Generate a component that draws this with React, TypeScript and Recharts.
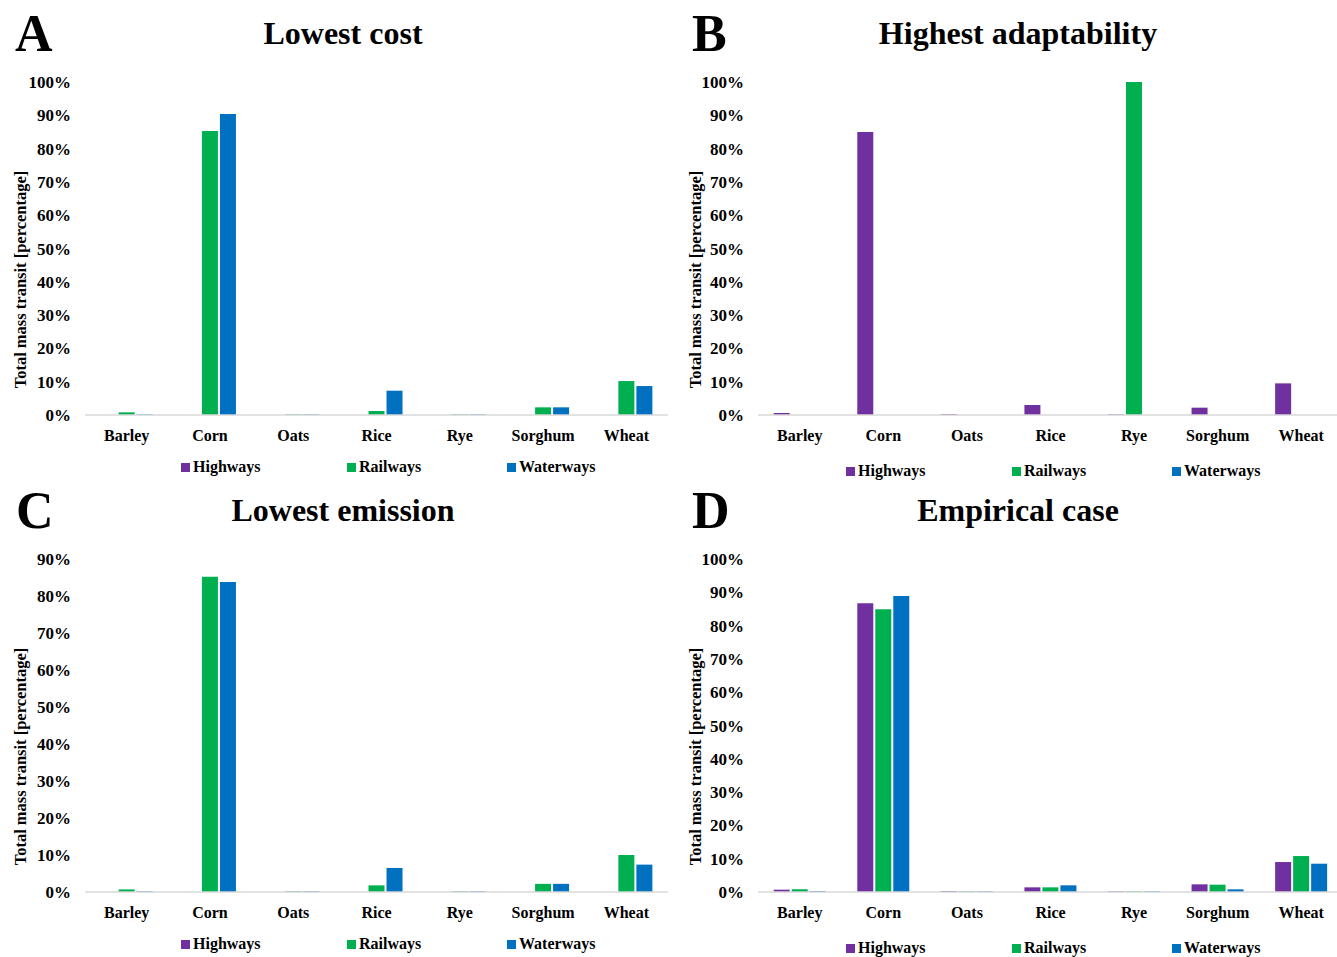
import React from 'react';
import { BarChart, Bar, XAxis, YAxis, Legend } from 'recharts';

const crops = ['Barley', 'Corn', 'Oats', 'Rice', 'Rye', 'Sorghum', 'Wheat'];

// A - lowest cost (%)
const costHighways = [0, 0, 0, 0, 0, 0, 0];
const costRailways = [0.8, 85.3, 0.2, 1.2, 0.2, 2.3, 10.2];
const costWaterways = [0.2, 90.4, 0.2, 7.3, 0.2, 2.3, 8.7];

// B - highest adaptability (%)
const adaptHighways = [0.6, 85.0, 0.3, 3.0, 0.2, 2.2, 9.5];
const adaptRailways = [0, 0, 0, 0, 100, 0, 0];
const adaptWaterways = [0, 0, 0, 0, 0, 0, 0];

// C - lowest emission (%)
const emisHighways = [0, 0, 0, 0, 0, 0, 0];
const emisRailways = [0.7, 85.2, 0.2, 1.8, 0.2, 2.2, 10.0];
const emisWaterways = [0.2, 83.8, 0.2, 6.5, 0.2, 2.2, 7.4];

// D - empirical case (%)
const empHighways = [0.7, 86.7, 0.3, 1.4, 0.2, 2.3, 9.0];
const empRailways = [0.8, 84.9, 0.2, 1.4, 0.2, 2.2, 10.8];
const empWaterways = [0.3, 88.9, 0.2, 2.0, 0.2, 0.8, 8.5];

const ticks100 = [0, 10, 20, 30, 40, 50, 60, 70, 80, 90, 100];
const ticks90 = [0, 10, 20, 30, 40, 50, 60, 70, 80, 90];

const series = [
  { key: 'highways', name: 'Highways', color: '#7030A0' },
  { key: 'railways', name: 'Railways', color: '#00B050' },
  { key: 'waterways', name: 'Waterways', color: '#0070C0' },
];

const FONT = "'Liberation Serif', 'Times New Roman', serif";

function buildRows(h: number[], r: number[], w: number[]) {
  return crops.map((name, i) => ({ name, highways: h[i], railways: r[i], waterways: w[i] }));
}

interface PanelProps {
  letter: string;
  title: string;
  rows: ReturnType<typeof buildRows>;
  ticks: number[];
  left: number;
  top: number;
  width: number;
  axisWidth: number;
  labelX: number;
  letterX: number;
  titleCenter: number;
  legendTop: number;
  legendX: number[];
}

function Panel(p: PanelProps) {
  const { rows, ticks, width, axisWidth, labelX, legendTop, legendX } = p;

  const renderLegend = () => (
    <div style={{ position: 'relative', height: 20 }}>
      {series.map((s, i) => (
        <div
          key={s.key}
          style={{ position: 'absolute', left: legendX[i], top: 0, display: 'flex', alignItems: 'center', fontSize: 16, fontWeight: 700, color: '#000' }}
        >
          <span style={{ display: 'inline-block', width: 9, height: 9, background: s.color, marginRight: 3 }} />
          {s.name}
        </div>
      ))}
    </div>
  );

  const yLabel = (props: any) => {
    const vb = props.viewBox || {};
    const cx = labelX;
    const cy = (vb.y ?? 82) + (vb.height ?? 332) / 2 + 31;
    return (
      <text
        x={cx}
        y={cy}
        transform={`rotate(-90 ${cx} ${cy})`}
        textAnchor="middle"
        dominantBaseline="central"
        fontSize={16.5}
        fontWeight={700}
        fill="#000"
      >
        Total mass transit [percentage]
      </text>
    );
  };

  return (
    <div style={{ position: 'absolute', left: p.left, top: p.top, width, height: 478 }}>
      <div style={{ position: 'absolute', left: p.letterX, top: 6, fontSize: 52, fontWeight: 700, lineHeight: '56px' }}>{p.letter}</div>
      <div
        style={{
          position: 'absolute',
          left: p.titleCenter - 300,
          width: 600,
          top: 14,
          textAlign: 'center',
          fontSize: 32,
          fontWeight: 700,
          lineHeight: '38px',
        }}
      >
        {p.title}
      </div>
      <BarChart
        width={width}
        height={478}
        data={rows}
        margin={{ top: 82, right: 0, bottom: 13, left: 0 }}
        barCategoryGap="18.8%"
        barGap={2}
      >
        <XAxis
          dataKey="name"
          axisLine={{ stroke: '#d9d9d9', strokeWidth: 1.5 }}
          tickLine={false}
          tickMargin={9}
          interval={0}
          tick={{ fill: '#000', fontSize: 16, fontWeight: 700 }}
        />
        <YAxis
          width={axisWidth}
          domain={[0, ticks[ticks.length - 1]]}
          ticks={ticks}
          interval={0}
          axisLine={false}
          tickLine={false}
          tickMargin={8}
          tickFormatter={(v: number) => `${v}%`}
          tick={{ fill: '#000', fontSize: 17, fontWeight: 700 }}
          label={yLabel}
        />
        <Legend content={renderLegend} wrapperStyle={{ position: 'absolute', top: legendTop, left: 0, width }} />
        {series.map((s) => (
          <Bar key={s.key} dataKey={s.key} name={s.name} fill={s.color} isAnimationActive={false} />
        ))}
      </BarChart>
    </div>
  );
}

export default function App() {
  const legendLeft = [181, 347, 507];
  const legendRight = [178, 344, 504];
  return (
    <div
      style={{
        position: 'absolute',
        left: 0,
        top: 0,
        width: 1337,
        height: 957,
        overflow: 'hidden',
        background: '#fff',
        fontFamily: FONT,
        fontWeight: 700,
      }}
    >
      <Panel
        letter="A"
        title="Lowest cost"
        rows={buildRows(costHighways, costRailways, costWaterways)}
        ticks={ticks100}
        left={0}
        top={0}
        width={668}
        axisWidth={85}
        labelX={20}
        letterX={15}
        titleCenter={343}
        legendTop={458}
        legendX={legendLeft}
      />
      <Panel
        letter="B"
        title="Highest adaptability"
        rows={buildRows(adaptHighways, adaptRailways, adaptWaterways)}
        ticks={ticks100}
        left={668}
        top={0}
        width={675}
        axisWidth={90}
        labelX={27}
        letterX={24}
        titleCenter={350}
        legendTop={462}
        legendX={legendRight}
      />
      <Panel
        letter="C"
        title="Lowest emission"
        rows={buildRows(emisHighways, emisRailways, emisWaterways)}
        ticks={ticks90}
        left={0}
        top={477}
        width={668}
        axisWidth={85}
        labelX={20}
        letterX={16}
        titleCenter={343}
        legendTop={458}
        legendX={legendLeft}
      />
      <Panel
        letter="D"
        title="Empirical case"
        rows={buildRows(empHighways, empRailways, empWaterways)}
        ticks={ticks100}
        left={668}
        top={477}
        width={675}
        axisWidth={90}
        labelX={27}
        letterX={24}
        titleCenter={350}
        legendTop={462}
        legendX={legendRight}
      />
    </div>
  );
}
